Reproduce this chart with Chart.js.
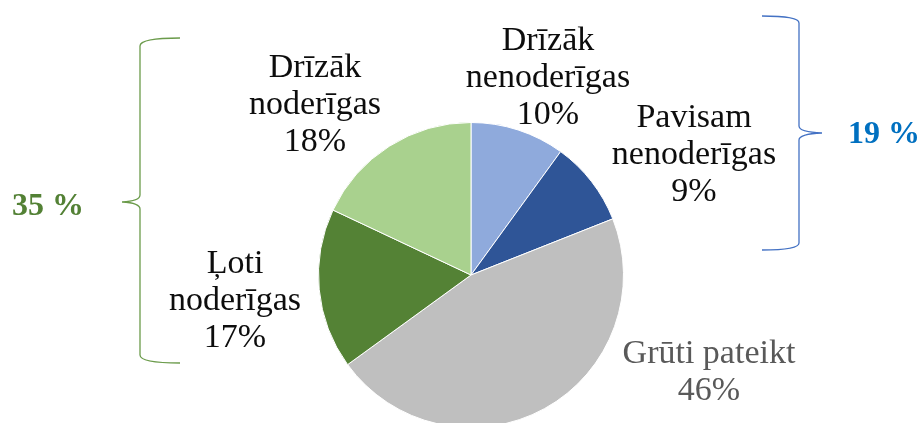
<!DOCTYPE html>
<html>
<head>
<meta charset="utf-8">
<script src="https://cdn.jsdelivr.net/npm/chart.js@4/dist/chart.umd.min.js"></script>
<style>
  html, body { margin: 0; padding: 0; background: #fff; overflow: hidden; }
  #wrap { position: absolute; left: 0; top: 0; width: 924px; height: 430px; }
</style>
</head>
<body>
<div id="wrap"><canvas id="pie" width="924" height="430"></canvas></div>
<script>
// dati
const kategorijas = [
  ['Drīzāk', 'nenoderīgas'],
  ['Pavisam', 'nenoderīgas'],
  ['Grūti pateikt'],
  ['Ļoti', 'noderīgas'],
  ['Drīzāk', 'noderīgas']
];
const vertibas = [10, 9, 46, 17, 18];
const krasas = ['#8faadc', '#2f5597', '#bfbfbf', '#548235', '#a9d18e'];
const tekstaKrasas = ['#0d0d0d', '#0d0d0d', '#595959', '#0d0d0d', '#0d0d0d'];

// grupas (iekavas)
const grupaNoderigas = '35 %';
const grupaNenoderigas = '19 %';

// etiķešu novietojums attiecībā pret centru: [dx, pirmās rindas bāzes līnija]
const etiketes = [[77, -225], [223, -148], [238, 88], [-236, -2], [-156, -198]];
const rindasAugstums = 37;

const etikesuPlugin = {
  id: 'etiketes',
  afterDatasetsDraw(chart) {
    const ctx = chart.ctx;
    const meta = chart.getDatasetMeta(0);
    const cx = meta.data[0].x;
    const cy = meta.data[0].y;
    ctx.save();
    ctx.font = '34px "Liberation Serif", serif';
    ctx.textAlign = 'center';
    ctx.textBaseline = 'alphabetic';
    meta.data.forEach((arc, i) => {
      const lines = kategorijas[i].concat([vertibas[i] + '%']);
      const [dx, dy] = etiketes[i];
      ctx.fillStyle = tekstaKrasas[i];
      lines.forEach((t, j) => {
        ctx.fillText(t, cx + dx, cy + dy + j * rindasAugstums);
      });
    });

    // kreisā iekava
    ctx.lineWidth = 1.3;
    ctx.strokeStyle = '#6b9b4b';
    ctx.beginPath();
    ctx.moveTo(180, 38);
    ctx.quadraticCurveTo(140, 38, 140, 46);
    ctx.lineTo(140, 195);
    ctx.quadraticCurveTo(140, 201, 122, 202);
    ctx.quadraticCurveTo(140, 203, 140, 209);
    ctx.lineTo(140, 355);
    ctx.quadraticCurveTo(140, 363, 180, 363);
    ctx.stroke();

    // labā iekava
    ctx.strokeStyle = '#4472c4';
    ctx.beginPath();
    ctx.moveTo(762, 16);
    ctx.quadraticCurveTo(799, 16, 799, 23);
    ctx.lineTo(799, 126);
    ctx.quadraticCurveTo(799, 132, 822, 133);
    ctx.quadraticCurveTo(799, 134, 799, 140);
    ctx.lineTo(799, 243);
    ctx.quadraticCurveTo(799, 250, 762, 250);
    ctx.stroke();

    ctx.font = 'bold 32px "Liberation Serif", serif';
    ctx.textAlign = 'left';
    ctx.fillStyle = '#538135';
    ctx.fillText(grupaNoderigas, 12, 215);
    ctx.fillStyle = '#0070c0';
    ctx.fillText(grupaNenoderigas, 848, 143);
    ctx.restore();
  }
};

new Chart('pie', {
  type: 'pie',
  data: {
    labels: kategorijas,
    datasets: [{
      data: vertibas,
      backgroundColor: krasas,
      borderColor: '#ffffff',
      borderWidth: 1
    }]
  },
  options: {
    responsive: false,
    animation: false,
    devicePixelRatio: 1,
    layout: { padding: { left: 318, right: 300, top: 122, bottom: 2 } },
    plugins: {
      legend: { display: false },
      tooltip: { enabled: false }
    }
  },
  plugins: [etikesuPlugin]
});
</script>
</body>
</html>
